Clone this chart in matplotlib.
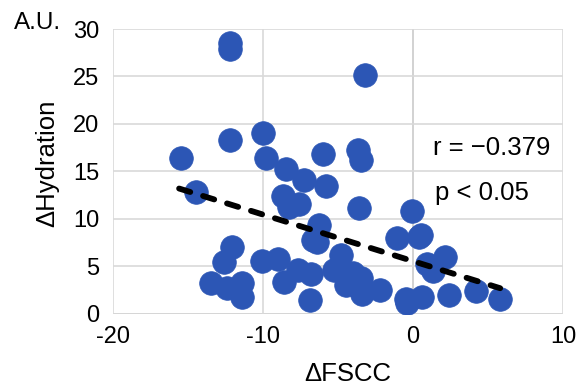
import matplotlib
matplotlib.use("Agg")
import matplotlib.pyplot as plt

plt.rcParams['font.family'] = ['Liberation Sans', 'DejaVu Sans']
plt.rcParams['axes.unicode_minus'] = False

# change in FSCC vs change in hydration
d_fscc = [-12.2, -12.2, -3.2, -15.5, -12.2, -10.0, -9.8, -8.5, -14.5, -8.7,
          -8.3, -6.0, -3.7, -3.5, -7.3, -5.8, -7.6, -3.6, -0.1, -6.3,
          -6.7, -6.4, -12.1, -12.6, -13.5, -12.4, -11.4, -11.4, -10.1, -9.0,
          -8.6, -7.7, -6.8, -6.9, -5.3, -4.8, -4.0, -3.5, -4.5, -3.4,
          -2.2, -1.1, 0.4, 0.5, 0.9, 2.1, 1.3, -0.5, -0.4, 0.6,
          2.4, 4.2, 5.8]
d_hydration = [28.5, 27.9, 25.2, 16.4, 18.3, 19.0, 16.4, 15.3, 12.8, 12.4,
               11.3, 16.8, 17.3, 16.2, 14.1, 13.5, 11.6, 11.1, 10.8, 9.4,
               7.8, 7.6, 7.0, 5.5, 3.2, 2.7, 3.2, 1.8, 5.6, 5.8,
               3.4, 4.6, 4.2, 1.5, 4.6, 6.2, 4.3, 3.8, 3.0, 2.1,
               2.5, 8.0, 8.1, 8.3, 5.2, 6.0, 4.5, 1.6, 1.1, 1.8,
               2.0, 2.4, 1.6]

# linear trend endpoints
trend_x = [-15.6, 5.8]
trend_y = [13.2, 2.7]

xticks = [-20, -10, 0, 10]
yticks = [0, 5, 10, 15, 20, 25, 30]

fig = plt.figure(figsize=(5.8, 3.87), dpi=100)
ax = fig.add_axes([0.195, 0.189, 0.776, 0.736])

ax.set_xlim(-20, 10)
ax.set_ylim(0, 30)
ax.set_xticks(xticks)
ax.set_yticks(yticks)
ax.grid(True, color='#d9d9d9', linewidth=1.2, zorder=0)
ax.set_axisbelow(True)
for s in ax.spines.values():
    s.set_visible(False)
ax.axvline(0, color='#b0b0b0', linewidth=1.3, zorder=0.5)
ax.axhline(0, color='#c8c8c8', linewidth=1.3, zorder=0.5)

ax.scatter(d_fscc, d_hydration, s=290, color='#2c56b5', edgecolors='#2c56b5',
           linewidths=0.5, zorder=2)

ax.plot(trend_x, trend_y, color='black', linewidth=4.2, linestyle=(0, (2.0, 2.3)),
        dash_capstyle='round', zorder=3)

ax.tick_params(length=0, labelsize=17)
ax.tick_params(axis='y', pad=10)
ax.tick_params(axis='x', pad=9)

ax.set_xlabel('ΔFSCC', fontsize=18.5, labelpad=10)
ax.set_ylabel('ΔHydration', fontsize=18.5, labelpad=10)
ax.xaxis.label.set_x(0.522)
ax.yaxis.label.set_y(0.53)

ax.text(1.33, 17.5, 'r = −0.379', fontsize=18.5, va='center', ha='left')
ax.text(1.47, 12.7, 'p < 0.05', fontsize=18.5, va='center', ha='left')
fig.text(14 / 580, 1 - 23 / 387, 'A.U.', fontsize=17.5, va='center', ha='left')

fig.savefig('out.png', dpi=100)
